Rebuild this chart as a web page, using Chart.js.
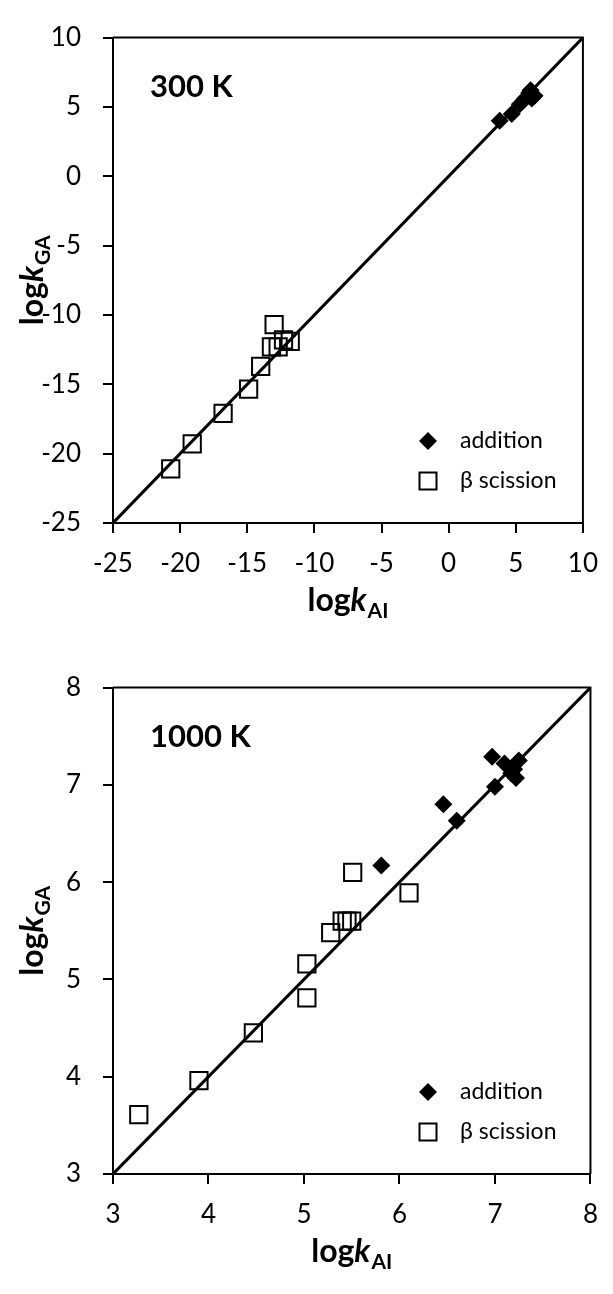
<!doctype html>
<html lang="en">
<head>
<meta charset="utf-8">
<title>logk GA vs logk AI</title>
<script src="https://cdn.jsdelivr.net/npm/chart.js@4.4.0/dist/chart.umd.min.js"></script>
<style>
    body {
        margin: 0;
        background: #fff;
    }
    .panel {
        position: absolute;
        left: 0;
        width: 613px;
    }
</style>
</head>
<body>
<div class="panel" style="top:0;height:650px"><canvas id="chart300"></canvas></div>
<div class="panel" style="top:650px;height:644px"><canvas id="chart1000"></canvas></div>

<script>
    // 300 K panel
    var range300 = [-25, 10];
    var add300X = [3.8, 4.7, 5.3, 5.7, 6.0, 6.1, 6.4, 6.2];
    var add300Y = [4.0, 4.5, 5.2, 5.6, 6.0, 6.2, 5.8, 5.6];
    var sci300X = [-20.7, -19.1, -16.8, -14.9, -14.0, -13.2, -13.0, -12.7, -12.3, -11.8];
    var sci300Y = [-21.1, -19.3, -17.1, -15.35, -13.7, -12.3, -10.7, -12.3, -11.8, -11.9];

    // 1000 K panel
    var range1000 = [3, 8];
    var add1000X = [5.81, 6.46, 6.60, 6.97, 7.00, 7.10, 7.25, 7.17, 7.22, 7.20];
    var add1000Y = [6.17, 6.80, 6.63, 7.29, 6.98, 7.22, 7.25, 7.12, 7.07, 7.16];
    var sci1000X = [3.27, 3.90, 4.47, 5.03, 5.03, 5.28, 5.40, 5.45, 5.50, 5.51, 6.10];
    var sci1000Y = [3.61, 3.96, 4.45, 4.81, 5.16, 5.48, 5.60, 5.60, 5.60, 6.10, 5.89];

    var seriesNames = ['addition', 'β scission'];

    Chart.defaults.font.family = 'Lato';
    Chart.defaults.color = '#000';

    function toPoints(xs, ys) {
        var pts = [];
        for (var i = 0; i < xs.length; i++) {
            pts.push({x: xs[i], y: ys[i]});
        }
        return pts;
    }

    function drawAxisTitle(ctx, cx, cy, sub, vertical) {
        ctx.save();
        ctx.font = 'bold 32px Lato';
        var w1 = ctx.measureText('log').width;
        ctx.font = 'italic bold 32px Lato';
        var w2 = ctx.measureText('k').width;
        ctx.font = 'bold 21px Lato';
        var w3 = ctx.measureText(sub).width;
        var x = -(w1 + w2 + w3 + 1) / 2;
        ctx.translate(cx, cy);
        if (vertical) ctx.rotate(-Math.PI / 2);
        ctx.fillStyle = '#000';
        ctx.textBaseline = 'alphabetic';
        ctx.font = 'bold 32px Lato';
        ctx.fillText('log', x, 10);
        x += w1;
        ctx.font = 'italic bold 32px Lato';
        ctx.fillText('k', x, 10);
        x += w2 + 1;
        ctx.font = 'bold 21px Lato';
        ctx.fillText(sub, x, 17);
        ctx.restore();
    }

    // frame, temperature label, legend and axis titles
    var decorations = {
        id: 'decorations',
        afterDraw: function(chart) {
            var ctx = chart.ctx;
            var a = chart.chartArea;
            ctx.save();
            ctx.strokeStyle = '#000';
            ctx.lineWidth = 2;
            ctx.beginPath();
            ctx.moveTo(a.left, a.top);
            ctx.lineTo(a.right, a.top);
            ctx.lineTo(a.right, a.bottom);
            ctx.stroke();

            ctx.fillStyle = '#000';
            ctx.font = 'bold 31px Lato';
            ctx.textBaseline = 'middle';
            ctx.fillText(chart.options.plugins.decorations.label, 150, a.top + 49);

            // legend
            var lx = 428, ly1 = a.bottom - 82, ly2 = a.bottom - 42;
            ctx.beginPath();
            ctx.moveTo(lx - 9, ly1);
            ctx.lineTo(lx, ly1 - 9);
            ctx.lineTo(lx + 9, ly1);
            ctx.lineTo(lx, ly1 + 9);
            ctx.closePath();
            ctx.fill();
            ctx.strokeRect(lx - 8.5, ly2 - 8.5, 17, 17);
            ctx.font = '23px Lato';
            ctx.fillText(seriesNames[0], 460, ly1);
            ctx.fillText(seriesNames[1], 460, ly2);
            ctx.restore();

            drawAxisTitle(ctx, (a.left + a.right) / 2, a.bottom + 78, 'AI', false);
            drawAxisTitle(ctx, 33, (a.top + a.bottom) / 2, 'GA', true);
        }
    };

    function makeChart(id, range, step, addX, addY, sciX, sciY, label, topPad, xAxisH) {
        var ctx = document.getElementById(id).getContext('2d');
        return new Chart(ctx, {
            type: 'scatter',
            data: {
                datasets: [{
                    label: seriesNames[0],
                    data: toPoints(addX, addY),
                    pointStyle: 'rectRot',
                    pointRadius: 9,
                    pointHoverRadius: 9,
                    backgroundColor: '#000',
                    borderColor: '#000',
                    borderWidth: 0,
                    order: 1
                }, {
                    label: seriesNames[1],
                    data: toPoints(sciX, sciY),
                    pointStyle: 'rect',
                    pointRadius: 12.2,
                    pointHoverRadius: 12.2,
                    backgroundColor: 'rgba(0,0,0,0)',
                    borderColor: '#000',
                    borderWidth: 2,
                    order: 1
                }, {
                    label: 'y = x',
                    data: toPoints(range, range),
                    showLine: true,
                    borderColor: '#000',
                    borderWidth: 3,
                    pointRadius: 0,
                    order: 2
                }]
            },
            options: {
                responsive: true,
                maintainAspectRatio: false,
                animation: false,
                layout: {
                    padding: {left: 0, right: 17, top: topPad, bottom: 0}
                },
                plugins: {
                    legend: {display: false},
                    tooltip: {enabled: false},
                    decorations: {label: label}
                },
                scales: {
                    x: {
                        type: 'linear',
                        min: range[0],
                        max: range[1],
                        ticks: {stepSize: step, font: {size: 26}, padding: 15, maxRotation: 0, autoSkip: false},
                        grid: {drawOnChartArea: false, color: '#000', lineWidth: 2, tickLength: 10},
                        border: {color: '#000', width: 2},
                        afterFit: function(s) { s.height = xAxisH; }
                    },
                    y: {
                        type: 'linear',
                        min: range[0],
                        max: range[1],
                        ticks: {stepSize: step, font: {size: 26}, padding: 22, autoSkip: false},
                        grid: {drawOnChartArea: false, color: '#000', lineWidth: 2, tickLength: 10},
                        border: {color: '#000', width: 2},
                        afterFit: function(s) { s.width = 113; }
                    }
                }
            },
            plugins: [decorations]
        });
    }

    makeChart('chart300', range300, 5, add300X, add300Y, sci300X, sci300Y, '300 K', 26, 127);
    makeChart('chart1000', range1000, 1, add1000X, add1000Y, sci1000X, sci1000Y, '1000 K', 28, 120);
</script>
</body>
</html>
